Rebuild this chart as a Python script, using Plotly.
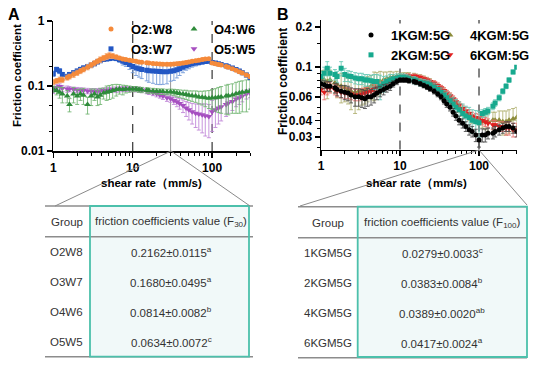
import plotly.graph_objects as go

# ---------------- data ----------------
X = [1.0, 1.1, 1.2, 1.3, 1.5, 1.6, 1.8, 2.0, 2.2, 2.4, 2.7, 3.0, 3.3, 3.6, 3.9, 4.3, 4.7, 5.1, 5.6, 6.2, 6.8, 7.5, 8.2, 9.1,
     10, 11, 12, 13, 15, 16, 18, 20, 22, 24, 27, 30, 33, 36, 39, 43, 47, 51, 56, 62, 68, 75, 82, 91,
     100, 110, 120, 130, 150, 160, 180, 200, 220, 240, 270, 300]

# Panel A
O2W8 = [0.115, 0.12, 0.125, 0.125, 0.135, 0.14, 0.15, 0.16, 0.17, 0.18, 0.195, 0.21, 0.225, 0.24, 0.255, 0.27, 0.285, 0.295, 0.29, 0.28, 0.27, 0.26, 0.255, 0.25,
        0.245, 0.24, 0.235, 0.232, 0.228, 0.225, 0.222, 0.22, 0.218, 0.217, 0.216, 0.216, 0.218, 0.22, 0.222, 0.225, 0.23, 0.235, 0.24, 0.245, 0.25, 0.255, 0.26, 0.262,
        0.225, 0.22, 0.215, 0.21, 0.2, 0.195, 0.185, 0.175, 0.165, 0.158, 0.148, 0.14]
O2W8_err = [0.01, 0.01, 0.012, 0.012, 0.012, 0.012, 0.015, 0.015, 0.015, 0.015, 0.018, 0.02, 0.02, 0.02, 0.025, 0.025, 0.03, 0.03, 0.025, 0.02, 0.015, 0.012, 0.01, 0.01,
            0.01, 0.01, 0.01, 0.01, 0.01, 0.01, 0.01, 0.01, 0.011, 0.011, 0.0115, 0.012, 0.012, 0.012, 0.012, 0.012, 0.012, 0.012, 0.012, 0.012, 0.012, 0.012, 0.012, 0.012,
            0.01, 0.01, 0.01, 0.008, 0.008, 0.008, 0.008, 0.008, 0.008, 0.008, 0.008, 0.008]
O3W7 = [0.155, 0.18, 0.17, 0.15, 0.14, 0.15, 0.16, 0.17, 0.18, 0.19, 0.2, 0.21, 0.22, 0.235, 0.245, 0.255, 0.26, 0.265, 0.27, 0.265, 0.255, 0.24, 0.23, 0.215,
        0.2, 0.19, 0.185, 0.18, 0.175, 0.172, 0.17, 0.168, 0.167, 0.166, 0.166, 0.168, 0.172, 0.178, 0.185, 0.195, 0.205, 0.212, 0.22, 0.225, 0.23, 0.235, 0.238, 0.24,
        0.23, 0.225, 0.22, 0.215, 0.205, 0.198, 0.19, 0.18, 0.17, 0.16, 0.148, 0.135]
O3W7_err = [0.015, 0.015, 0.015, 0.012, 0.012, 0.012, 0.012, 0.012, 0.015, 0.015, 0.015, 0.015, 0.015, 0.015, 0.015, 0.015, 0.015, 0.02, 0.02, 0.02, 0.025, 0.03, 0.03, 0.035,
            0.04, 0.045, 0.048, 0.05, 0.055, 0.058, 0.06, 0.062, 0.062, 0.06, 0.058, 0.0495, 0.05, 0.045, 0.04, 0.035, 0.03, 0.028, 0.025, 0.022, 0.02, 0.018, 0.015, 0.015,
            0.012, 0.01, 0.01, 0.01, 0.01, 0.01, 0.01, 0.01, 0.01, 0.01, 0.01, 0.01]
O4W6 = [0.09, 0.085, 0.08, 0.075, 0.07, 0.052, 0.075, 0.07, 0.075, 0.072, 0.052, 0.07, 0.075, 0.068, 0.072, 0.078, 0.08, 0.082, 0.085, 0.088, 0.09, 0.088, 0.09, 0.09,
        0.09, 0.09, 0.088, 0.087, 0.086, 0.085, 0.084, 0.083, 0.082, 0.082, 0.081, 0.0814, 0.08, 0.078, 0.077, 0.075, 0.074, 0.072, 0.071, 0.07, 0.068, 0.067, 0.066, 0.065,
        0.066, 0.066, 0.067, 0.068, 0.07, 0.071, 0.073, 0.076, 0.078, 0.08, 0.082, 0.084]
O4W6_err = [0.01, 0.012, 0.015, 0.02, 0.015, 0.012, 0.02, 0.018, 0.015, 0.02, 0.015, 0.02, 0.015, 0.018, 0.02, 0.015, 0.02, 0.02, 0.02, 0.018, 0.015, 0.015, 0.012, 0.01,
            0.008, 0.008, 0.008, 0.008, 0.008, 0.008, 0.008, 0.008, 0.008, 0.008, 0.008, 0.0082, 0.009, 0.01, 0.01, 0.011, 0.012, 0.012, 0.013, 0.014, 0.015, 0.016, 0.018, 0.02,
            0.022, 0.025, 0.028, 0.03, 0.033, 0.035, 0.035, 0.038, 0.04, 0.04, 0.042, 0.04]
O5W5 = [0.085, 0.095, 0.098, 0.092, 0.09, 0.09, 0.088, 0.087, 0.086, 0.085, 0.084, 0.083, 0.083, 0.083, 0.084, 0.085, 0.086, 0.087, 0.088, 0.088, 0.089, 0.09, 0.09, 0.09,
        0.09, 0.089, 0.088, 0.087, 0.084, 0.082, 0.079, 0.076, 0.073, 0.07, 0.066, 0.0634, 0.06, 0.057, 0.054, 0.05, 0.046, 0.043, 0.04, 0.038, 0.037, 0.036, 0.035, 0.034,
        0.04, 0.043, 0.046, 0.048, 0.052, 0.055, 0.058, 0.063, 0.066, 0.07, 0.075, 0.078]
O5W5_err = [0.008, 0.01, 0.01, 0.01, 0.01, 0.008, 0.008, 0.008, 0.008, 0.008, 0.008, 0.008, 0.008, 0.008, 0.008, 0.008, 0.008, 0.008, 0.008, 0.008, 0.008, 0.008, 0.008, 0.008,
            0.008, 0.008, 0.008, 0.008, 0.008, 0.008, 0.008, 0.008, 0.008, 0.008, 0.008, 0.0072, 0.008, 0.009, 0.01, 0.011, 0.012, 0.013, 0.014, 0.015, 0.016, 0.017, 0.018, 0.018,
            0.02, 0.02, 0.02, 0.019, 0.018, 0.017, 0.016, 0.015, 0.014, 0.013, 0.012, 0.012]

# Panel B
KGM1 = [0.075, 0.074, 0.072, 0.072, 0.07, 0.068, 0.066, 0.065, 0.064, 0.062, 0.06, 0.06, 0.059, 0.058, 0.06, 0.06, 0.062, 0.064, 0.066, 0.068, 0.07, 0.072, 0.075, 0.078,
        0.08, 0.08, 0.08, 0.079, 0.078, 0.077, 0.075, 0.073, 0.071, 0.069, 0.066, 0.063, 0.06, 0.056, 0.053, 0.05, 0.046, 0.043, 0.04, 0.038, 0.036, 0.034, 0.033, 0.031,
        0.0285, 0.031, 0.031, 0.032, 0.032, 0.033, 0.034, 0.035, 0.036, 0.036, 0.035, 0.033]
KGM1_err = [0.005, 0.005, 0.006, 0.006, 0.006, 0.007, 0.007, 0.008, 0.008, 0.008, 0.009, 0.009, 0.009, 0.009, 0.009, 0.008, 0.008, 0.007, 0.006, 0.006, 0.005, 0.005, 0.004, 0.004,
            0.003, 0.003, 0.003, 0.003, 0.003, 0.003, 0.003, 0.003, 0.003, 0.003, 0.003, 0.003, 0.003, 0.003, 0.003, 0.003, 0.003, 0.003, 0.003, 0.003, 0.003, 0.003, 0.003, 0.0033,
            0.0033, 0.0035, 0.0035, 0.003, 0.003, 0.003, 0.003, 0.003, 0.003, 0.003, 0.003, 0.003]
KGM2 = [0.085, 0.09, 0.098, 0.09, 0.088, 0.085, 0.098, 0.088, 0.086, 0.085, 0.083, 0.082, 0.082, 0.08, 0.08, 0.079, 0.078, 0.078, 0.072, 0.075, 0.078, 0.08, 0.082, 0.083,
        0.084, 0.084, 0.083, 0.082, 0.08, 0.079, 0.077, 0.076, 0.075, 0.074, 0.071, 0.068, 0.065, 0.062, 0.059, 0.056, 0.053, 0.05, 0.048, 0.045, 0.043, 0.042, 0.04, 0.039,
        0.0383, 0.045, 0.046, 0.047, 0.051, 0.054, 0.059, 0.066, 0.072, 0.08, 0.092, 0.1]
KGM2_err = [0.008, 0.01, 0.012, 0.01, 0.008, 0.008, 0.012, 0.01, 0.008, 0.008, 0.008, 0.008, 0.008, 0.008, 0.008, 0.008, 0.01, 0.01, 0.015, 0.01, 0.008, 0.008, 0.006, 0.006,
            0.005, 0.005, 0.005, 0.005, 0.005, 0.005, 0.005, 0.005, 0.005, 0.005, 0.005, 0.005, 0.005, 0.005, 0.006, 0.006, 0.006, 0.007, 0.007, 0.008, 0.008, 0.008, 0.008, 0.0084,
            0.0084, 0.003, 0.003, 0.003, 0.003, 0.003, 0.003, 0.003, 0.003, 0.003, 0.003, 0.003]
KGM4 = [0.082, 0.08, 0.078, 0.08, 0.076, 0.074, 0.072, 0.07, 0.068, 0.066, 0.065, 0.066, 0.067, 0.068, 0.07, 0.072, 0.074, 0.076, 0.078, 0.08, 0.082, 0.083, 0.084, 0.085,
        0.085, 0.086, 0.086, 0.086, 0.085, 0.084, 0.083, 0.081, 0.079, 0.077, 0.074, 0.071, 0.068, 0.065, 0.062, 0.059, 0.056, 0.053, 0.05, 0.047, 0.045, 0.043, 0.041, 0.04,
        0.0389, 0.039, 0.039, 0.039, 0.04, 0.04, 0.04, 0.039, 0.039, 0.04, 0.041, 0.042]
KGM4_err = [0.012, 0.015, 0.02, 0.015, 0.012, 0.015, 0.018, 0.015, 0.015, 0.018, 0.02, 0.018, 0.015, 0.015, 0.015, 0.015, 0.018, 0.015, 0.015, 0.012, 0.01, 0.01, 0.008, 0.008,
            0.005, 0.005, 0.005, 0.005, 0.005, 0.005, 0.005, 0.005, 0.005, 0.005, 0.005, 0.005, 0.005, 0.005, 0.005, 0.005, 0.004, 0.004, 0.004, 0.004, 0.003, 0.003, 0.003, 0.002,
            0.002, 0.004, 0.005, 0.006, 0.006, 0.006, 0.007, 0.008, 0.008, 0.008, 0.008, 0.008]
KGM6 = [0.068, 0.065, 0.07, 0.07, 0.068, 0.066, 0.065, 0.064, 0.064, 0.063, 0.062, 0.062, 0.063, 0.064, 0.065, 0.066, 0.068, 0.07, 0.072, 0.074, 0.076, 0.078, 0.08, 0.082,
        0.084, 0.085, 0.086, 0.086, 0.086, 0.085, 0.084, 0.082, 0.08, 0.078, 0.076, 0.073, 0.07, 0.067, 0.064, 0.061, 0.058, 0.055, 0.052, 0.049, 0.047, 0.045, 0.043, 0.042,
        0.0417, 0.04, 0.039, 0.038, 0.037, 0.037, 0.036, 0.036, 0.035, 0.035, 0.034, 0.034]
KGM6_err = [0.006, 0.008, 0.008, 0.006, 0.006, 0.006, 0.006, 0.006, 0.006, 0.006, 0.006, 0.006, 0.006, 0.006, 0.006, 0.006, 0.006, 0.006, 0.005, 0.005, 0.005, 0.005, 0.004, 0.004,
            0.003, 0.003, 0.003, 0.003, 0.003, 0.003, 0.003, 0.003, 0.003, 0.003, 0.003, 0.003, 0.003, 0.003, 0.003, 0.003, 0.003, 0.003, 0.003, 0.003, 0.003, 0.003, 0.003, 0.003,
            0.0024, 0.003, 0.003, 0.003, 0.003, 0.003, 0.003, 0.003, 0.004, 0.004, 0.004, 0.004]

X_TICKS = [1, 10, 100]
X_TICK_TEXT = ["1", "10", "100"]
X_MINOR = [2, 3, 4, 5, 6, 7, 8, 9, 20, 30, 40, 50, 60, 70, 80, 90, 200, 300]
A_Y_TICKS = [0.01, 0.1, 1]
A_Y_TICK_TEXT = ["0.01", "0.1", "1"]
A_Y_MINOR = [0.02, 0.05, 0.2, 0.5]
B_Y_TICKS = [0.03, 0.04, 0.06, 0.1, 0.2]
B_Y_TICK_TEXT = ["0.03", "0.04", "0.06", "0.1", "0.2"]
B_Y_MINOR = [0.025, 0.035, 0.045, 0.05, 0.07, 0.08, 0.09, 0.15]
MARK_LINES = [10, 100]
ZOOM_A = 30
ZOOM_A_TOP = 0.22

TABLE_A_GROUPS = ["O2W8", "O3W7", "O4W6", "O5W5"]
TABLE_A_VALUES = ["0.2162±0.0115<sup>a</sup>", "0.1680±0.0495<sup>a</sup>",
                  "0.0814±0.0082<sup>b</sup>", "0.0634±0.0072<sup>c</sup>"]
TABLE_B_GROUPS = ["1KGM5G", "2KGM5G", "4KGM5G", "6KGM5G"]
TABLE_B_VALUES = ["0.0279±0.0033<sup>c</sup>", "0.0383±0.0084<sup>b</sup>",
                  "0.0389±0.0020<sup>ab</sup>", "0.0417±0.0024<sup>a</sup>"]

# ---------------- figure ----------------
W, H = 550, 373
FONT = "Liberation Sans, Arial, Helvetica, sans-serif"


def px(x):
    return x / W


def py(y):
    return 1 - y / H


fig = go.Figure()


def add_series(y, err, name, color, ecolor, symbol, size, xa, ya, legend, rank):
    fig.add_trace(go.Scatter(
        x=X, y=y, mode="markers", name=name, xaxis=xa, yaxis=ya, legend=legend, legendrank=rank,
        marker=dict(symbol=symbol, size=size, color=color, line=dict(width=0)),
        error_y=dict(type="data", array=err, visible=True, color=ecolor, thickness=1, width=2),
        cliponaxis=True,
    ))


# Panel A series
add_series(O5W5, O5W5_err, "O5:W5", "#A64FC0", "rgba(190,130,215,0.85)", "triangle-down", 6, "x", "y", "legend2", 2)
add_series(O4W6, O4W6_err, "O4:W6", "#2E8B3A", "rgba(110,180,110,0.85)", "triangle-up", 6, "x", "y", "legend2", 1)
add_series(O3W7, O3W7_err, "O3:W7", "#2257C4", "rgba(110,150,215,0.85)", "square", 5, "x", "y", "legend", 2)
add_series(O2W8, O2W8_err, "O2:W8", "#F58A3A", "rgba(245,165,110,0.85)", "circle", 5, "x", "y", "legend", 1)

# Panel B series
add_series(KGM4, KGM4_err, "4KGM:5G", "#8C8C3A", "rgba(175,175,110,0.85)", "triangle-up", 6, "x2", "y2", "legend4", 1)
add_series(KGM6, KGM6_err, "6KGM:5G", "#E02020", "rgba(235,110,110,0.85)", "triangle-down", 6, "x2", "y2", "legend4", 2)
add_series(KGM2, KGM2_err, "2KGM:5G", "#17A98E", "rgba(100,200,180,0.85)", "square", 5, "x2", "y2", "legend3", 2)
add_series(KGM1, KGM1_err, "1KGM:5G", "#000000", "rgba(70,70,70,0.85)", "circle", 5, "x2", "y2", "legend3", 1)

tickfont = dict(family=FONT, size=12, color="black", weight="bold")
common_x = dict(type="log", range=[0, 2.4771], showline=True, linecolor="black", linewidth=1.5,
                ticks="outside", ticklen=5, tickwidth=1.5, tickcolor="black",
                tickmode="array", tickvals=X_TICKS, ticktext=X_TICK_TEXT, tickfont=tickfont,
                minor=dict(tickmode="array", tickvals=X_MINOR, ticks="outside", ticklen=3, tickwidth=1, tickcolor="black"),
                showgrid=False, zeroline=False, automargin=False, fixedrange=True)

fig.update_layout(
    width=W, height=H, margin=dict(l=0, r=0, t=0, b=0),
    paper_bgcolor="white", plot_bgcolor="white",
    xaxis=dict(domain=[px(53.3), px(250)], anchor="y", **common_x),
    xaxis2=dict(domain=[px(321), px(516.7)], anchor="y2", **common_x),
    yaxis=dict(domain=[py(151), py(21)], anchor="x", type="log", range=[-2, 0],
               showline=True, linecolor="black", linewidth=1.5,
               ticks="outside", ticklen=5, tickwidth=1.5, tickcolor="black",
               tickmode="array", tickvals=A_Y_TICKS, ticktext=A_Y_TICK_TEXT, tickfont=tickfont,
               minor=dict(tickmode="array", tickvals=A_Y_MINOR, ticks="outside", ticklen=3, tickwidth=1, tickcolor="black"),
               showgrid=False, zeroline=False, automargin=False, fixedrange=True),
    yaxis2=dict(domain=[py(149.5), py(20)], anchor="x2", type="log", range=[-1.6166, -0.6466],
                showline=True, linecolor="black", linewidth=1.5,
                ticks="outside", ticklen=5, tickwidth=1.5, tickcolor="black",
                tickmode="array", tickvals=B_Y_TICKS, ticktext=B_Y_TICK_TEXT, tickfont=tickfont,
                minor=dict(tickmode="array", tickvals=B_Y_MINOR, ticks="outside", ticklen=3, tickwidth=1, tickcolor="black"),
                showgrid=False, zeroline=False, automargin=False, fixedrange=True),
    showlegend=True,
)

legfont = dict(family=FONT, size=13, color="black", weight="bold")
for key, lx, ly in [("legend", 131, 14), ("legend2", 214, 14), ("legend3", 391, 20), ("legend4", 470, 20)]:
    fig.update_layout({key: dict(x=px(lx - 40), y=py(ly), xanchor="left", yanchor="top",
                                 bgcolor="rgba(0,0,0,0)", font=legfont, itemwidth=30,
                                 tracegroupgap=0, borderwidth=0)})

shapes = []
GRAY = "#8c8c8c"
TEAL = "#4cc0ab"

# dashed reference lines and zoom marker (data x, full plot height)
for xv in MARK_LINES:
    for xr, yr in [("x", "y domain"), ("x2", "y2 domain")]:
        shapes.append(dict(type="line", xref=xr, yref=yr, x0=xv, x1=xv, y0=0, y1=1,
                           line=dict(color="#333333", width=1.2, dash="dash"), layer="below"))
shapes.append(dict(type="line", xref="x", yref="y", x0=ZOOM_A, x1=ZOOM_A, y0=0.01, y1=ZOOM_A_TOP,
                   line=dict(color="#999999", width=1), layer="below"))


def hline(x0, x1, y):
    shapes.append(dict(type="line", xref="paper", yref="paper", x0=px(x0), x1=px(x1), y0=py(y), y1=py(y),
                       line=dict(color=GRAY, width=1.5), layer="above"))


def seg(x0, y0, x1, y1):
    shapes.append(dict(type="line", xref="paper", yref="paper", x0=px(x0), x1=px(x1), y0=py(y0), y1=py(y1),
                       line=dict(color="#8a8a8a", width=1), layer="above"))


# table A
shapes.append(dict(type="rect", xref="paper", yref="paper", x0=px(90), x1=px(249), y0=py(356.7), y1=py(206),
                   fillcolor="#f1f9f9", line=dict(width=0), layer="below"))
hline(45, 253, 206)
hline(45, 253, 236.7)
hline(45, 253, 356.7)
shapes.append(dict(type="rect", xref="paper", yref="paper", x0=px(90), x1=px(249), y0=py(356.7), y1=py(206),
                   fillcolor="rgba(0,0,0,0)", line=dict(color=TEAL, width=1.8), layer="above"))
# table B
shapes.append(dict(type="rect", xref="paper", yref="paper", x0=px(357.7), x1=px(527), y0=py(357), y1=py(206.7),
                   fillcolor="#f1f9f9", line=dict(width=0), layer="below"))
hline(298, 527, 206.7)
hline(298, 527, 237.7)
hline(298, 527, 357.7)
shapes.append(dict(type="rect", xref="paper", yref="paper", x0=px(357.7), x1=px(527), y0=py(357), y1=py(206.7),
                   fillcolor="rgba(0,0,0,0)", line=dict(color=TEAL, width=1.8), layer="above"))
# connectors
seg(171, 151, 55, 206)
seg(171, 151, 250, 206)
seg(479, 150, 300, 206)
seg(479, 150, 527, 205)
fig.update_layout(shapes=shapes)

ann = []


def text(x, y, s, size, bold=False, color="black", angle=0, xanchor="center"):
    ann.append(dict(x=px(x), y=py(y), xref="paper", yref="paper", text=s, showarrow=False,
                    xanchor=xanchor, yanchor="middle", textangle=angle,
                    font=dict(family=FONT, size=size, color=color, weight="bold" if bold else "normal")))


text(14, 14, "A", 16, bold=True)
text(283, 14, "B", 16, bold=True)
text(17, 76, "Friction coefficient", 11.5, bold=True, angle=-90)
text(283, 82, "Friction coefficient", 12, bold=True, angle=-90)
text(151, 183, "shear rate（mm/s)", 11.5, bold=True)
text(416, 183, "shear rate（mm/s)", 11.5, bold=True)

TC = "#333333"
text(67, 222, "Group", 11.5, color=TC)
text(171, 222, "friction coefficients value (F<sub>30</sub>)", 11.5, color=TC)
for g, v, y in zip(TABLE_A_GROUPS, TABLE_A_VALUES, [251.7, 281.7, 311.7, 342.3]):
    text(66.5, y, g, 11.5, color=TC)
    text(171, y, v, 11.5, color=TC)
text(328, 222.7, "Group", 11.5, color=TC)
text(442, 222.7, "friction coefficients value (F<sub>100</sub>)", 11.5, color=TC)
for g, v, y in zip(TABLE_B_GROUPS, TABLE_B_VALUES, [252.7, 283.3, 313.3, 343.3]):
    text(328, y, g, 11.5, color=TC)
    text(442, y, v, 11.5, color=TC)

fig.update_layout(annotations=ann)
fig.write_html("out.html", config={"displayModeBar": False, "staticPlot": True},
               post_script="document.body.style.margin='0px';document.body.style.overflow='hidden';")
